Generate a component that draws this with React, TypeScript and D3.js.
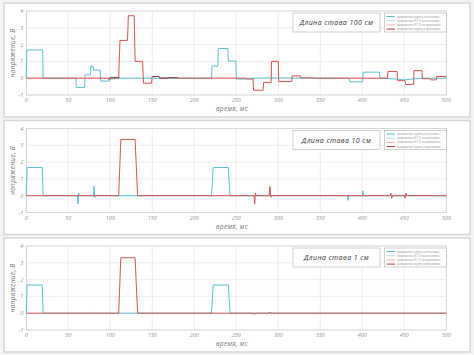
import React from "react";
import * as d3 from "d3";

const W = 474;
const H = 355;

type Pt = [number, number];

const panelTitles = ["Длина става 100 см", "Длина става 10 см", "Длина става 1 см"];
const legendLabels = [
  "напряжение грунта у источника",
  "напряжение Н.Г.У. на источнике",
  "напряжение Н.Г.У. на приёмнике",
  "напряжение грунта у приёмника",
];
const legendColors = ["#57bfd0", "#b5e3ee", "#f2b3b3", "#a8403c"];
const xTicks = [0, 50, 100, 150, 200, 250, 300, 350, 400, 450, 500];
const yTicks = [-1, 0, 1, 2, 3, 4];

// Panel 1 (100 cm)
const cyan100: Pt[] = [
  [0, 0], [0.5, 1.68], [19.5, 1.68], [20, 0], [59, 0], [59.5, -0.55], [69.5, -0.55], [70, 0.2],
  [76.5, 0.2], [77, 0.72], [79.5, 0.72], [80, 0.48], [88, 0.48], [88.5, -0.17], [99, -0.17],
  [99.5, -0.05], [110, -0.02], [111, 0], [220.5, 0], [221, 0.72], [228, 0.72], [228.5, 1.77],
  [240, 1.77], [240.5, 1.02], [249.5, 1.02], [250, -0.05], [262, -0.05], [266, 0], [300, 0.02],
  [330, 0], [384.5, 0], [385, -0.22], [400.5, -0.22], [401, 0.36], [420.5, 0.36], [421, 0],
  [440, -0.05], [450, -0.1], [460, -0.05], [470, 0], [500, 0],
];
const red100: Pt[] = [
  [0, 0], [110, 0], [111.5, 2.25], [120.5, 2.25], [121.5, 3.72], [128.5, 3.72], [129.5, 1.0],
  [138.5, 1.0], [139.5, -0.3], [149, -0.3], [150, 0.1], [158, 0.1], [159, 0.0], [168, 0.0],
  [170, 0.03], [180, 0.03], [181, 0], [262, 0], [262.5, -0.05], [270, -0.05], [270.5, -0.72],
  [282, -0.72], [282.5, -0.25], [291.5, -0.25], [292, 1.0], [300, 1.0], [300.5, -0.2], [316, -0.2],
  [316.5, 0.14], [326, 0.14], [326.5, 0.02], [340, 0.02], [345, 0], [430, 0], [430.5, 0.4],
  [441.5, 0.4], [442, -0.15], [451, -0.15], [451.5, -0.37], [461, -0.37], [461.5, 0.45],
  [471, 0.45], [471.5, -0.03], [481, -0.03], [481.5, -0.1], [488, -0.1], [488.5, 0.1], [500, 0.1],
];
const dark100: Pt[] = [
  [98, -0.1], [100, 0.05], [110, 0.05], [111, 0.05],
];
const dark100b: Pt[] = [
  [150, 0.1], [158, 0.1], [159, 0.0], [168, 0.0], [170, 0.03], [180, 0.03], [181, 0],
];

// Panel 2 (10 cm)
const cyan10: Pt[] = [
  [0, 0], [1, 1.68], [19, 1.68], [20, 0], [61, 0], [61.5, -0.5], [62.3, 0.15], [63, 0],
  [80, 0], [80.6, 0.55], [81.4, -0.1], [82, 0], [220.5, 0], [222.5, 1.68], [240.5, 1.68],
  [242.5, 0], [382.5, 0], [383.2, -0.28], [384, 0.05], [384.5, 0], [400, 0], [400.7, 0.3],
  [401.5, 0], [500, 0],
];
const red10: Pt[] = [
  [0, 0], [110, 0], [112.5, 3.35], [129.5, 3.35], [132.5, 0], [271, 0], [271.8, -0.5],
  [272.8, 0.15], [273.5, 0], [289, 0], [290, 0.55], [291, -0.1], [292, 0], [433, 0],
  [434, 0.15], [435, -0.15], [436, 0], [450, 0], [451, -0.15], [452, 0.15], [453, 0], [500, 0],
];

// Panel 3 (1 cm)
const cyan1: Pt[] = [
  [0, 0], [1, 1.68], [19, 1.68], [20, 0], [61, 0], [61.5, -0.05], [62.5, 0], [80, 0],
  [80.5, 0.05], [81.5, 0], [220.5, 0], [222.5, 1.68], [240.5, 1.68], [242.5, 0], [383, 0],
  [383.5, -0.05], [384.5, 0], [400, 0], [400.5, 0.05], [401.5, 0], [500, 0],
];
const red1: Pt[] = [
  [0, 0], [110, 0], [112.5, 3.3], [129.5, 3.3], [132.5, 0], [271, 0], [271.5, -0.08],
  [272.5, 0], [289, 0], [290, 0.07], [291, 0], [500, 0],
];

const panelSeries: { data: Pt[]; color: string }[][] = [
  [
    { data: cyan100, color: "#5cc2d2" },
    { data: red100, color: "#d85555" },
    { data: dark100, color: "#6e5a5a" },
    { data: dark100b, color: "#7a4a4a" },
  ],
  [
    { data: cyan10, color: "#5cc2d2" },
    { data: red10, color: "#d85555" },
  ],
  [
    { data: cyan1, color: "#5cc2d2" },
    { data: red1, color: "#d85555" },
  ],
];

const panelTops = [3, 120.5, 238];
const panelH = 114;
const plotLeft = 26.3;
const plotRight = 446.3;

const tickFont = "'Open Sans', 'DejaVu Sans', sans-serif";

function Panel({ idx }: { idx: number }) {
  const top = panelTops[idx];
  const plotTop = top + 8;
  const plotBottom = top + 92;
  const x = d3.scaleLinear().domain([0, 500]).range([plotLeft, plotRight]);
  const y = d3.scaleLinear().domain([-1, 4]).range([plotBottom, plotTop]);
  const line = d3
    .line<Pt>()
    .x((d) => x(d[0]))
    .y((d) => y(d[1]));
  return (
    <g>
      <rect x={4} y={top} width={466} height={panelH} fill="#ffffff" stroke="#d6d6d6" strokeWidth={1.5} />
      {xTicks.map((t) => (
        <line key={"gx" + t} x1={x(t)} x2={x(t)} y1={plotTop} y2={plotBottom} stroke="#e8e8e8" strokeWidth={0.7} />
      ))}
      {yTicks.map((t) => (
        <line key={"gy" + t} x1={plotLeft} x2={plotRight} y1={y(t)} y2={y(t)} stroke="#e8e8e8" strokeWidth={0.7} />
      ))}
      <rect x={plotLeft} y={plotTop} width={plotRight - plotLeft} height={plotBottom - plotTop} fill="none" stroke="#cfcfcf" strokeWidth={0.7} />
      {yTicks.map((t) => (
        <text key={"ty" + t} x={plotLeft - 3} y={y(t) + 2} fontSize={5.5} fontStyle="italic" fill="#9a9a9a" textAnchor="end" fontFamily={tickFont}>
          {t}
        </text>
      ))}
      {xTicks.map((t) => (
        <text key={"tx" + t} x={x(t)} y={plotBottom + 7} fontSize={5.5} fontStyle="italic" fill="#9a9a9a" textAnchor="middle" fontFamily={tickFont}>
          {t}
        </text>
      ))}
      <text x={232} y={top + 108} fontSize={6.5} fontStyle="italic" fill="#777" textAnchor="middle" fontFamily={tickFont} letterSpacing={0.3}>
        время, мс
      </text>
      <text
        transform={`translate(15,${(plotTop + plotBottom) / 2}) rotate(-90)`}
        fontSize={6.5}
        fontStyle="italic"
        fill="#777"
        textAnchor="middle"
        fontFamily={tickFont}
        letterSpacing={0.3}
      >
        напряжение, В
      </text>
      {panelSeries[idx].map((s, i) => (
        <path key={"s" + i} d={line(s.data) || ""} fill="none" stroke={s.color} strokeWidth={1} strokeLinejoin="round" />
      ))}
      <rect x={293} y={top + 10} width={87} height={19} fill="#ffffff" stroke="#bdbdbd" strokeWidth={0.7} />
      <text x={336.5} y={top + 22.3} fontSize={7} fontStyle="italic" fill="#333" textAnchor="middle" fontFamily={tickFont} letterSpacing={0.4}>
        {panelTitles[idx]}
      </text>
      <rect x={384.5} y={top + 10} width={62} height={19} fill="#ffffff" stroke="#bdbdbd" strokeWidth={0.7} />
      {legendLabels.map((lab, i) => (
        <g key={"lg" + i}>
          <line x1={386.5} x2={395} y1={top + 13.5 + i * 4.2} y2={top + 13.5 + i * 4.2} stroke={legendColors[i]} strokeWidth={1} />
          <text x={397} y={top + 14.5 + i * 4.2} fontSize={2.7} fill="#888" fontFamily={tickFont}>
            {lab}
          </text>
        </g>
      ))}
    </g>
  );
}

export default function App() {
  return (
    <svg
      width={W}
      height={H}
      style={{ position: "absolute", left: 0, top: 0, display: "block" }}
      xmlns="http://www.w3.org/2000/svg"
    >
      <rect x={0} y={0} width={W} height={H} fill="#f4f4f4" />
      {[0, 1, 2].map((i) => (
        <Panel key={i} idx={i} />
      ))}
    </svg>
  );
}
